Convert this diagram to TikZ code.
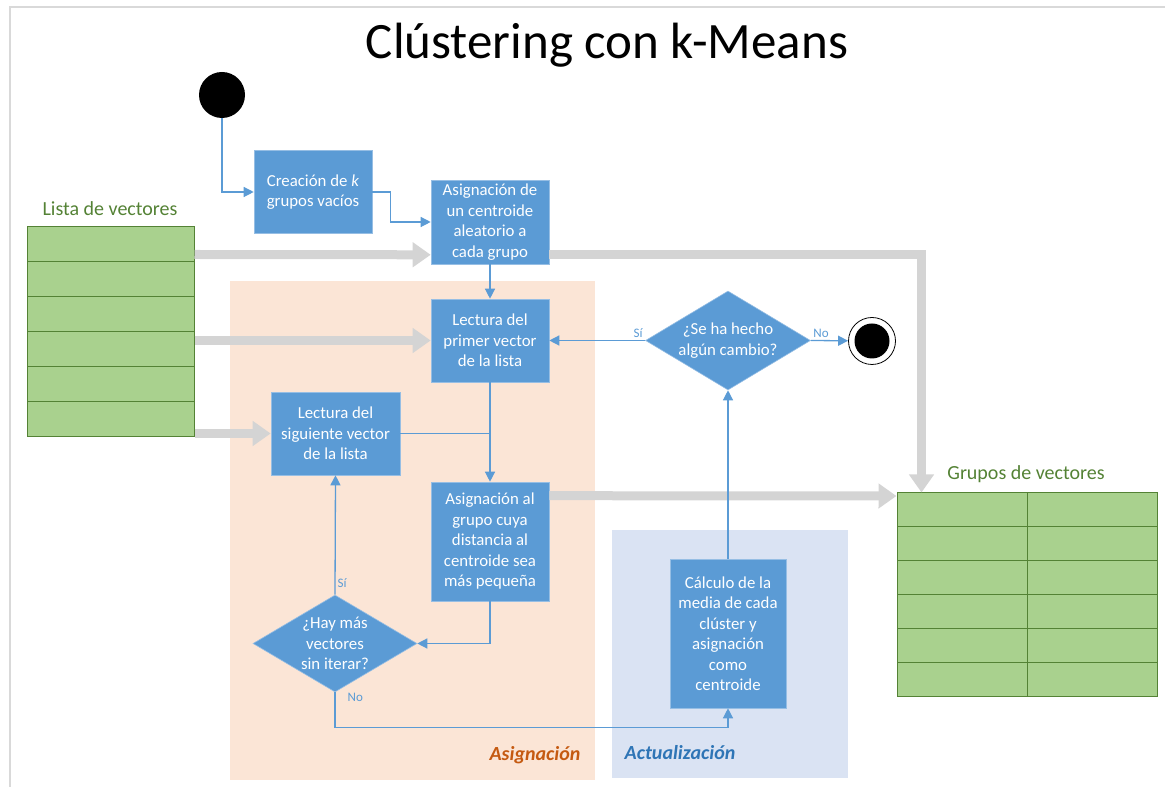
\documentclass[tikz,border=0pt]{standalone}
\usepackage{fontspec}
\setmainfont{Carlito}
\usepackage{xcolor}
\usepackage{tikz}
\usetikzlibrary{shapes.geometric, arrows.meta}
\definecolor{bloque}{RGB}{91,155,213}
\definecolor{bordebloque}{RGB}{150,190,228}
\definecolor{verde}{RGB}{169,209,142}
\definecolor{verdeoscuro}{RGB}{84,130,53}
\definecolor{naranja}{RGB}{251,229,214}
\definecolor{naranjaoscuro}{RGB}{197,90,17}
\definecolor{azulclaro}{RGB}{218,227,243}
\definecolor{azuloscuro}{RGB}{46,117,182}
\definecolor{gris}{RGB}{212,212,212}
\definecolor{marco}{RGB}{217,217,217}
\tikzstyle{block} = [rectangle, minimum width=118pt, minimum height=83pt, align=center, text=white, font=\fontsize{16.8}{20.5}\selectfont, draw=bordebloque, line width=0.6pt, fill=bloque]
\tikzstyle{choix} = [diamond, minimum width=164pt, minimum height=97pt, inner sep=0pt, draw=bordebloque, line width=0.6pt, fill=bloque]
\tikzstyle{choixtext} = [align=center, text=white, font=\fontsize{16.8}{20.5}\selectfont]
\tikzstyle{cell} = [rectangle, inner sep=0pt, draw=verdeoscuro, line width=1pt, fill=verde]
\tikzstyle{zona} = [rectangle, inner sep=0pt, anchor=south west]
\tikzstyle{tabletitle} = [text=verdeoscuro, font=\fontsize{20}{24}\selectfont]
\tikzstyle{rama} = [text=bloque, inner sep=2pt, font=\fontsize{13}{15}\selectfont]
\tikzstyle{arrow} = [draw=bloque, line width=1.3pt, -{Triangle[length=10pt,width=10pt]}]
\tikzstyle{line} = [draw=bloque, line width=1.3pt]
\tikzstyle{bigarrow} = [draw=gris, line width=9pt, -{Triangle[length=18pt,width=24pt]}]

\begin{document}
\begin{tikzpicture}[x=1pt, y=1pt]
        \useasboundingbox (0,0) rectangle (1165,787);
        \draw [marco, line width=2pt] (10,0) -- (10,780) -- (1165,780);

        \node (zonaAsig) [zona, fill=naranja, minimum width=365pt, minimum height=499pt] at (230,7) {};
        \node (zonaAct) [zona, fill=azulclaro, minimum width=236pt, minimum height=248pt] at (612,9) {};
        \node (etiqAsig) [text=naranjaoscuro, font=\fontsize{20}{24}\selectfont\bfseries\itshape] at (535,32) {Asignación};
        \node (etiqAct) [text=azuloscuro, font=\fontsize{20}{24}\selectfont\bfseries\itshape] at (680,34) {Actualización};

        \node (titulo) [font=\fontsize{51}{60}\selectfont] at (607,742) {Clústering con k-Means};

        \node (tlista) [tabletitle] at (110,578) {Lista de vectores};
        \foreach \i in {1,...,6}
            \node (lista\i) [cell, minimum width=167pt, minimum height=35pt] at (110.5,{577.5-35*\i}) {};
        \node (tgrupos) [tabletitle] at (1026,313) {Grupos de vectores};
        \foreach \i in {1,...,6} {
            \node (gr\i-1) [cell, minimum width=130pt, minimum height=34pt] at (962,{311-34*\i}) {};
            \node (gr\i-2) [cell, minimum width=130pt, minimum height=34pt] at (1092,{311-34*\i}) {};
        }

        \node (start) [circle, fill=black, minimum size=46pt, inner sep=0pt] at (222,692) {};
        \node (crea) [block] at (313,595) {Creación de \textit{k}\\grupos vacíos};
        \node (asig) [block, minimum height=84pt] at (490,565) {Asignación de\\un centroide\\aleatorio a\\cada grupo};
        \node (lect1) [block] at (490,446.5) {Lectura del\\primer vector\\de la lista};
        \node (sig) [block, minimum width=129pt] at (335.5,353.5) {Lectura del\\siguiente vector\\de la lista};
        \node (asig2) [block, minimum height=119pt] at (490,245.5) {Asignación al\\grupo cuya\\distancia al\\centroide sea\\más pequeña};
        \node (hay) [choix, label={[choixtext]center:{¿Hay más\\vectores\\sin iterar?}}] at (335,143.5) {};
        \node (calc) [block, minimum width=116pt, minimum height=149pt] at (728,153.5) {Cálculo de la\\media de cada\\clúster y\\asignación\\como\\centroide};
        \node (cambio) [choix, minimum width=165pt, minimum height=99pt, label={[choixtext]center:{¿Se ha hecho\\algún cambio?}}] at (728,446.5) {};
        \node (fin) [circle, draw=black, line width=0.8pt, fill=white, minimum size=47pt, inner sep=0pt, path picture={\fill[black] (path picture bounding box.center) circle (17.5pt);}] at (872,446) {};

        \draw [bigarrow] ([yshift=-10pt]lista1.east) -- ([yshift=9.5pt]asig.south west);
        \draw [bigarrow] (lista4.east |- lect1.west) -- (lect1.west);
        \draw [bigarrow] (lista6.east |- sig.west) -- (sig.west);
        \draw [bigarrow] ([yshift=9.5pt]asig.south east) -| ([xshift=25pt]gr1-1.north west);
        \draw [bigarrow] ([yshift=-14pt]asig2.north east) -- ([yshift=-3.5pt]gr1-1.north west);

        \draw [arrow] (start) |- (crea);
        \draw [arrow] (crea.east) -- ++(18,0) |- (asig.west);
        \draw [arrow] (asig) -- (lect1);
        \draw [arrow] (lect1) -- (asig2);
        \draw [line] (sig.east) -- (sig.east -| lect1.south);
        \draw [arrow] (asig2.south) |- (hay.east);
        \draw [arrow] (hay.north) -- node[rama, pos=0.1, right] {Sí} (sig.south);
        \draw [arrow] (hay.south) -- node[rama, pos=0.15, right=10pt] {No} ++(0,-35) -| (calc.south);
        \draw [arrow] (calc) -- (cambio);
        \draw [arrow] (cambio.west) -- node[rama, pos=0, above left] {Sí} (lect1.east);
        \draw [arrow] (cambio.east) -- node[rama, pos=0, above right] {No} (fin);
\end{tikzpicture}
\end{document}
